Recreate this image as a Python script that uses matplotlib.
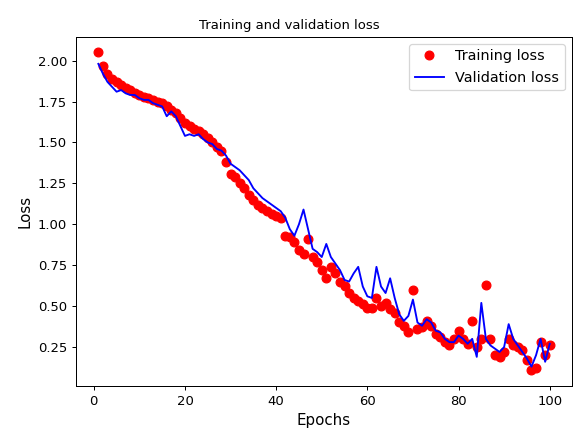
import numpy as np
import matplotlib
matplotlib.use("Agg")
import matplotlib.pyplot as plt

# values
epochs = list(range(1, 101))

loss = [2.05, 1.97, 1.92, 1.89, 1.87, 1.85, 1.83, 1.82, 1.80, 1.79,
        1.78, 1.77, 1.76, 1.75, 1.74, 1.72, 1.70, 1.68, 1.65, 1.62,
        1.60, 1.58, 1.57, 1.55, 1.53, 1.50, 1.47, 1.45, 1.38, 1.31,
        1.29, 1.25, 1.22, 1.18, 1.15, 1.12, 1.10, 1.08, 1.06, 1.05,
        1.04, 0.93, 0.92, 0.89, 0.84, 0.82, 0.91, 0.80, 0.77, 0.72,
        0.67, 0.74, 0.70, 0.65, 0.62, 0.58, 0.55, 0.53, 0.51, 0.49,
        0.49, 0.55, 0.50, 0.52, 0.48, 0.46, 0.40, 0.38, 0.34, 0.60,
        0.36, 0.37, 0.41, 0.38, 0.33, 0.31, 0.28, 0.26, 0.30, 0.35,
        0.30, 0.27, 0.41, 0.25, 0.30, 0.63, 0.30, 0.20, 0.19, 0.22,
        0.30, 0.26, 0.25, 0.23, 0.17, 0.11, 0.12, 0.28, 0.20, 0.26]

val_loss = [1.98, 1.92, 1.87, 1.84, 1.81, 1.82, 1.80, 1.79, 1.79, 1.77,
            1.76, 1.76, 1.74, 1.73, 1.72, 1.66, 1.69, 1.66, 1.60, 1.54,
            1.55, 1.54, 1.55, 1.52, 1.50, 1.49, 1.46, 1.45, 1.42, 1.37,
            1.35, 1.33, 1.30, 1.27, 1.22, 1.19, 1.16, 1.14, 1.12, 1.10,
            1.08, 1.04, 0.97, 0.93, 1.00, 1.09, 0.97, 0.85, 0.83, 0.80,
            0.88, 0.80, 0.76, 0.72, 0.66, 0.65, 0.70, 0.74, 0.62, 0.56,
            0.55, 0.74, 0.62, 0.58, 0.67, 0.55, 0.45, 0.41, 0.44, 0.54,
            0.40, 0.38, 0.42, 0.40, 0.35, 0.34, 0.30, 0.28, 0.28, 0.32,
            0.30, 0.27, 0.30, 0.19, 0.52, 0.30, 0.26, 0.24, 0.22, 0.25,
            0.39, 0.30, 0.26, 0.22, 0.18, 0.13, 0.20, 0.30, 0.16, 0.27]

plt.rcParams['xtick.labelsize'] = 10.5
plt.rcParams['ytick.labelsize'] = 10.5

fig = plt.figure(figsize=(574 / 90, 435 / 90), dpi=90)
fig.subplots_adjust(left=0.132, right=0.997, bottom=0.113, top=0.916)
ax = fig.add_subplot(111)

ax.plot(epochs, loss, 'ro', markersize=7, label='Training loss')
ax.plot(epochs, val_loss, 'b', label='Validation loss')
ax.set_title('Training and validation loss', fontsize=10.5, x=0.43)
ax.set_xlabel('Epochs', fontsize=12)
ax.set_ylabel('Loss', fontsize=12)
ax.legend(loc='upper right', fontsize=11.5)

fig.savefig('out.png', dpi=90)
